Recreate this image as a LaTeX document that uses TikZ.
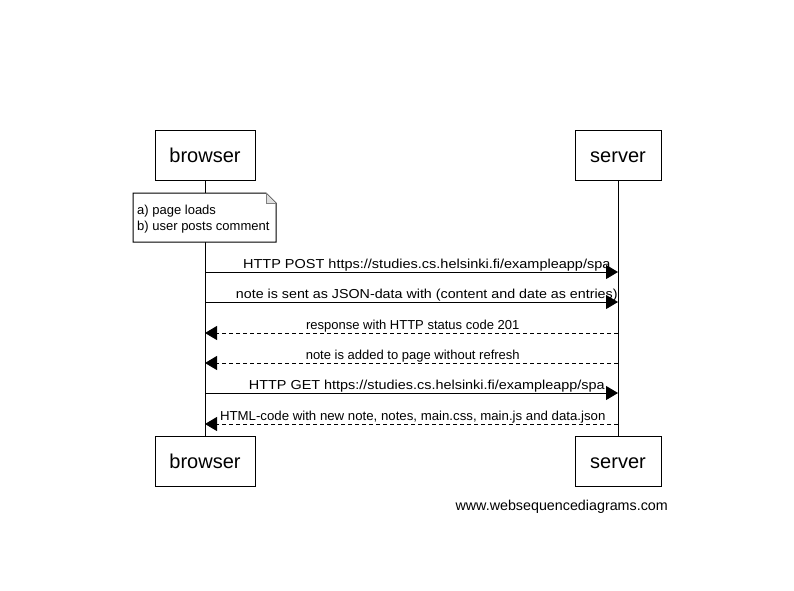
\documentclass[tikz,border=0pt]{standalone}
\usepackage{fontspec}
\setmainfont{Liberation Sans}
\usetikzlibrary{arrows.meta}
\begin{document}
\begin{tikzpicture}[x=1pt,y=-1pt,
  actor/.style={draw,line width=1pt,minimum width=100pt,minimum height=50pt,inner sep=0pt,font=\fontsize{20}{24}\selectfont,fill=white,text height=14pt,text depth=0pt},
  lifeline/.style={line width=1pt},
  req/.style={line width=1pt,-{Triangle[length=12pt,width=14pt]}},
  resp/.style={line width=1pt,dash pattern=on 4pt off 3pt,-{Triangle[length=12pt,width=14pt]}},
  lbl/.style={font=\fontsize{13}{15}\selectfont,inner sep=0pt,anchor=base},
  msg/.style={lbl,anchor=base,yshift=3.5pt}]
\useasboundingbox (0,0) rectangle (794,590);
\fill[white] (0,0) rectangle (794,590);
% actors
\node[actor] (bt) at (205,155) {browser};
\node[actor,minimum width=86pt] (st) at (618,155) {server};
\node[actor] (bb) at (205,461.5) {browser};
\node[actor,minimum width=86pt] (sb) at (618,461.5) {server};
% lifelines
\draw[lifeline] (bt.south) -- (bb.north);
\draw[lifeline] (st.south) -- (sb.north);
% note
\fill[white] (133,193) -- (266,193) -- (276,203) -- (276,242) -- (133,242) -- cycle;
\draw[line width=1pt] (133,193) -- (266,193) -- (276,203) -- (276,242) -- (133,242) -- cycle;
\fill[gray!25] (266,193) -- (266,203) -- (276,203) -- cycle;
\draw[line width=0.6pt,gray] (266,193) -- (266,203) -- (276,203);
\node[lbl,anchor=base west] (n1) at (137,214) {a) page loads};
\node[lbl,anchor=base west] (n2) at (137,230) {b) user posts comment};
% message coordinates
\foreach \i/\y in {1/272,2/302,3/333,4/363,5/393,6/424} {
  \coordinate (b\i) at (205,\y);
  \coordinate (s\i) at (618,\y);
}
\draw[req] (b1) -- (s1) node[msg,pos=0.537] {\scalebox{1.115}[1]{HTTP POST https://studies.cs.helsinki.fi/exampleapp/spa}};
\draw[req] (b2) -- (s2) node[msg,pos=0.537] {\scalebox{1.098}[1]{note is sent as JSON-data with (content and date as entries)}};
\draw[resp] (s3) -- (b3) node[msg,pos=0.497] {response with HTTP status code 201};
\draw[resp] (s4) -- (b4) node[msg,pos=0.497] {note is added to page without refresh};
\draw[req] (b5) -- (s5) node[msg,pos=0.537] {\scalebox{1.109}[1]{HTTP GET https://studies.cs.helsinki.fi/exampleapp/spa}};
\draw[resp] (s6) -- (b6) node[msg,pos=0.497] {\scalebox{1.018}[1]{HTML-code with new note, notes, main.css, main.js and data.json}};
% watermark
\node[font=\fontsize{14.3}{16}\selectfont,anchor=base east,inner sep=0pt] (wm) at (668,510) {www.websequencediagrams.com};
\end{tikzpicture}
\end{document}
